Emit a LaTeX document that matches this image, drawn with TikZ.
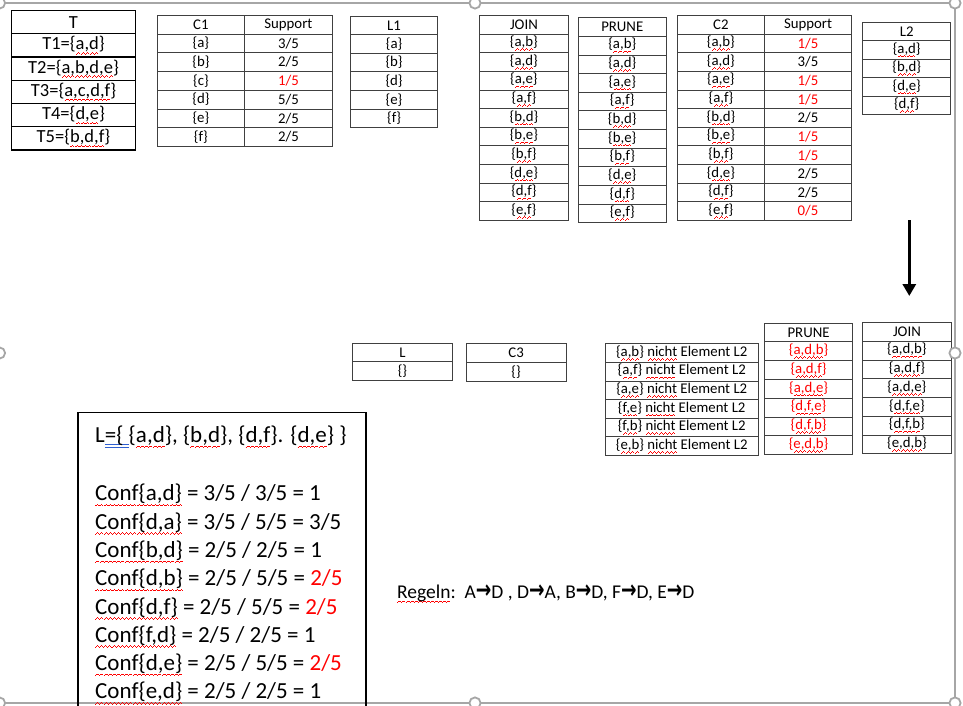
\documentclass[tikz,border=0pt]{standalone}
\usepackage{fontspec}
\setmainfont{Carlito}
\newfontfamily\arrowfont{DejaVu Sans}
\usetikzlibrary{arrows.meta}
\definecolor{tabline}{HTML}{404040}
\definecolor{framegrey}{HTML}{A6A6A6}
\definecolor{gramblue}{HTML}{2F5FD0}
\newcommand\wvr[1]{\rule[\dimexpr-0.17em-#1\relax]{1pt}{0.8pt}}
\newcommand\wv[1]{\setbox0\hbox{#1}\leavevmode\rlap{\color{red}\hbox to\wd0{\xleaders\hbox{\wvr{1.5pt}\wvr{0.75pt}\wvr{0pt}\wvr{0.75pt}}\hfil}}\box0\relax}
\newcommand\bdu[1]{\setbox0\hbox{#1}\leavevmode\rlap{\color{gramblue}\rule[-0.12em]{\wd0}{0.9pt}}\rlap{\color{gramblue}\rule[-0.24em]{\wd0}{0.9pt}}\box0\relax}
\newcommand\rarr{{\arrowfont\bfseries\scalebox{0.95}[1.3]{→}}}
% #1 style, #2 name, #3 x, #4 y, #5 width, #6 row height, #7 entries
\newcommand\coltab[7]{%
  \foreach \t [count=\i from 0] in {#7}{%
    \node[#1, minimum width=#5pt, minimum height=#6pt] (#2-\i) at (#3, {#4+\i*#6}) {\t};
  }}
\begin{document}
\begin{tikzpicture}[x=1pt,y=-1pt,
  cell/.style={draw=tabline, line width=0.8pt, rectangle, inner sep=0pt, anchor=north west,
    font=\fontsize{14.8}{16}\selectfont},
  tcell/.style={draw=black, line width=1.3pt, rectangle, inner sep=0pt, anchor=north west,
    font=\fontsize{18.5}{20}\selectfont},
  conf/.style={anchor=base west, inner sep=0pt, font=\fontsize{23}{28}\selectfont},
  rulestext/.style={anchor=base west, inner sep=0pt, font=\fontsize{19.5}{22}\selectfont},
  frameline/.style={draw=framegrey, line width=1.3pt},
  handle/.style={draw=framegrey, line width=1.8pt, fill=white}]
\useasboundingbox (0,0) rectangle (963,706);

% selection frame
\draw[frameline] (-0.5,3) -- (955,3) -- (955,703) -- (-0.5,703);

% ---- top row ----
\coltab{tcell}{T}{10.7}{10}{124.3}{23.2}{T, {T1=\{\wv{a,d}\}}, {T2=\{\wv{a,b,d,e}\}}, {T3=\{\wv{a,c,d,f}\}}, {T4=\{\wv{d,e}\}}, {T5=\{\wv{b,d,f}\}}}

\coltab{cell}{C1a}{156.7}{15}{87.6}{18.71}{C1,\{a\},\{b\},\{c\},\{d\},\{e\},\{f\}}
\coltab{cell}{C1b}{244.3}{15}{87.4}{18.71}{Support,3/5,2/5,\textcolor{red}{1/5},5/5,2/5,2/5}

\coltab{cell}{L1}{350}{15.7}{87.3}{18.6}{L1,\{a\},\{b\},\{d\},\{e\},\{f\}}

\coltab{cell}{J}{479.3}{15}{88.4}{18.64}{JOIN, {\{\wv{a,b}\}}, {\{\wv{a,d}\}}, {\{\wv{a,e}\}}, {\{\wv{a,f}\}}, {\{\wv{b,d}\}}, {\{\wv{b,e}\}}, {\{\wv{b,f}\}}, {\{\wv{d,e}\}}, {\{\wv{d,f}\}}, {\{\wv{e,f}\}}}

\coltab{cell}{P}{577.7}{17.3}{88.3}{18.64}{PRUNE, {\{\wv{a,b}\}}, {\{\wv{a,d}\}}, {\{\wv{a,e}\}}, {\{\wv{a,f}\}}, {\{\wv{b,d}\}}, {\{\wv{b,e}\}}, {\{\wv{b,f}\}}, {\{\wv{d,e}\}}, {\{\wv{d,f}\}}, {\{\wv{e,f}\}}}

\coltab{cell}{C2a}{676.7}{15}{87.6}{18.64}{C2, {\{\wv{a,b}\}}, {\{\wv{a,d}\}}, {\{\wv{a,e}\}}, {\{\wv{a,f}\}}, {\{\wv{b,d}\}}, {\{\wv{b,e}\}}, {\{\wv{b,f}\}}, {\{\wv{d,e}\}}, {\{\wv{d,f}\}}, {\{\wv{e,f}\}}}
\coltab{cell}{C2b}{764.3}{15}{86.7}{18.64}{Support, \textcolor{red}{1/5}, 3/5, \textcolor{red}{1/5}, \textcolor{red}{1/5}, 2/5, \textcolor{red}{1/5}, \textcolor{red}{1/5}, 2/5, 2/5, \textcolor{red}{0/5}}

\coltab{cell}{L2}{862.3}{21.7}{88}{18.52}{L2, {\{\wv{a,d}\}}, {\{\wv{b,d}\}}, {\{\wv{d,e}\}}, {\{\wv{d,f}\}}}

% down arrow
\coordinate (a1) at (909.3,220);
\coordinate (a2) at (909.3,296);
\draw[line width=3.2pt, -{Triangle[width=13pt,length=12pt]}] (a1) -- (a2);

% ---- middle row ----
\coltab{cell}{L}{352.3}{342.7}{99.4}{18.65}{L,\{\}}
\coltab{cell}{C3}{465.7}{343.3}{100}{18.7}{C3,\{\}}

\coltab{cell}{N}{605}{343.3}{152.7}{18.6}{{\{\wv{a,b}\} \wv{nicht} Element L2}, {\{\wv{a,f}\} \wv{nicht} Element L2}, {\{\wv{a,e}\} \wv{nicht} Element L2}, {\{\wv{f,e}\} \wv{nicht} Element L2}, {\{\wv{f,b}\} \wv{nicht} Element L2}, {\{\wv{e,b}\} \wv{nicht} Element L2}}

\coltab{cell}{Pb}{764}{322.7}{88.3}{18.76}{PRUNE, {\textcolor{red}{\{\wv{a,d,b}\}}}, {\textcolor{red}{\{\wv{a,d,f}\}}}, {\textcolor{red}{\{\wv{a,d,e}\}}}, {\textcolor{red}{\{\wv{d,f,e}\}}}, {\textcolor{red}{\{\wv{d,f,b}\}}}, {\textcolor{red}{\{\wv{e,d,b}\}}}}

\coltab{cell}{Jb}{862.3}{322}{88.4}{18.76}{JOIN, {\{\wv{a,d,b}\}}, {\{\wv{a,d,f}\}}, {\{\wv{a,d,e}\}}, {\{\wv{d,f,e}\}}, {\{\wv{d,f,b}\}}, {\{\wv{e,d,b}\}}}

% ---- bottom left box ----
\draw[line width=1.6pt] (78,712) -- (78,412.5) -- (366,412.5) -- (366,712);
\node[conf] (Lset) at (95,442.5) {L\bdu{=\{ }\{\wv{a,d}\}, \{\wv{b,d}\}, \{\wv{d,f}\}. \{\wv{d,e}\} \}};
\foreach \t [count=\i from 0] in {
  {\wv{Conf\{a,d\}} = 3/5 / 3/5 = 1},
  {\wv{Conf\{d,a\}} = 3/5 / 5/5 = 3/5},
  {\wv{Conf\{b,d\}} = 2/5 / 2/5 = 1},
  {\wv{Conf\{d,b\}} = 2/5 / 5/5 = \textcolor{red}{2/5}},
  {\wv{Conf\{d,f\}} = 2/5 / 5/5 = \textcolor{red}{2/5}},
  {\wv{Conf\{f,d\}} = 2/5 / 2/5 = 1},
  {\wv{Conf\{d,e\}} = 2/5 / 5/5 = \textcolor{red}{2/5}},
  {\wv{Conf\{e,d\}} = 2/5 / 2/5 = 1}}{
  \node[conf] (cf\i) at (95, {500.8+\i*28.3}) {\t};
}

% rules
\node[rulestext] (rules) at (397,598) {\wv{Regeln}:\ \ A\rarr D , D\rarr A, B\rarr D, F\rarr D, E\rarr D};

% selection handles
\foreach \p [count=\k] in {(-0.5,3),(475,3),(955,3),(-0.5,353),(955,353),(-0.5,703),(475,703),(955,703)}{
  \draw[handle] \p circle (5.6);
}
\end{tikzpicture}
\end{document}
